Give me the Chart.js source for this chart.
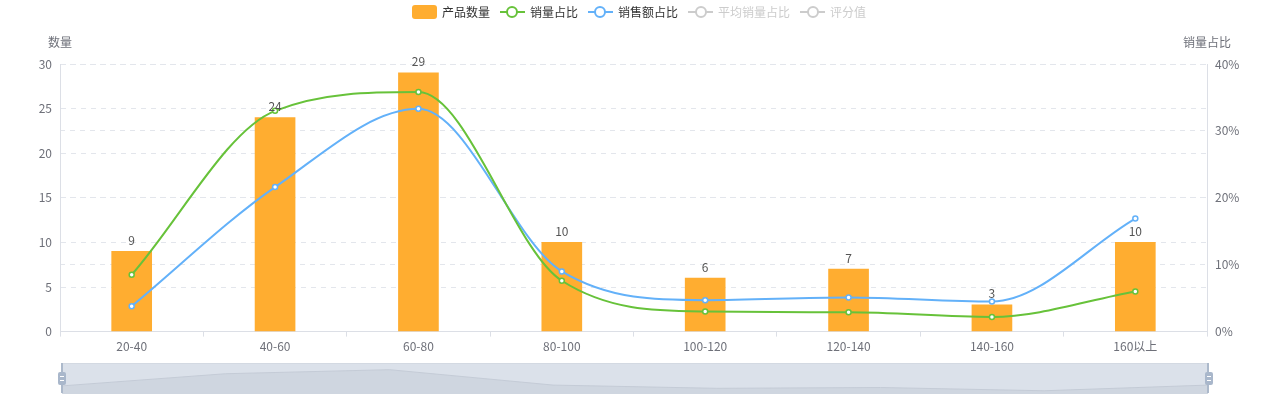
<!DOCTYPE html>
<html>
<head>
<meta charset="utf-8">
<script src="https://cdn.jsdelivr.net/npm/chart.js@4.4.1/dist/chart.umd.min.js"></script>
<style>
  html, body { margin: 0; padding: 0; background: #fff; }
  #wrap { position: relative; width: 1278px; height: 400px; overflow: hidden; }
  #main { position: absolute; left: 0; top: 0; }
  .legend {
    position: absolute; left: 0; top: 5px; width: 1278px;
    display: flex; justify-content: center;
    font: 12px "Noto Sans CJK SC", sans-serif; color: #333; line-height: 14px;
  }
  .legend .item { display: flex; align-items: center; margin: 0 5px; }
  .legend .item.off { color: #ccc; }
  .legend .txt { margin-left: 5px; white-space: nowrap; }
  .ico { position: relative; width: 25px; height: 14px; }
  .ico.bar { background: var(--c); border-radius: 3px; }
  .ico.line::before {
    content: ""; position: absolute; left: 0; right: 0; top: 6px; height: 2px; background: var(--c);
  }
  .ico.line::after {
    content: ""; position: absolute; left: 6.5px; top: 1px; width: 8px; height: 8px;
    border: 2px solid var(--c); border-radius: 50%; background: #fff;
  }
  #zoomBox {
    position: absolute; left: 62px; top: 363px; width: 1147px; height: 30px;
    background: #dbe1ea; box-sizing: border-box; border-top: 1px solid #d3d9e2;
  }
  #shadow { position: absolute; left: 0; top: 0; }
  .handleBar { position: absolute; top: 363px; width: 2px; height: 30px; background: #acb9cb; }
  .handle {
    position: absolute; top: 372px; width: 8px; height: 13px; background: #a9b7cb; border-radius: 2px;
  }
  .handle::before, .handle::after {
    content: ""; position: absolute; left: 2px; width: 4px; height: 1px; background: #fff;
  }
  .handle::before { top: 4px; }
  .handle::after { top: 8px; }
</style>
</head>
<body>
<div id="wrap">
  <canvas id="main" width="1278" height="400"></canvas>
  <div class="legend">
    <div class="item"><div class="ico bar" style="--c:#ffad30"></div><span class="txt">产品数量</span></div>
    <div class="item"><div class="ico line" style="--c:#67c23a"></div><span class="txt">销量占比</span></div>
    <div class="item"><div class="ico line" style="--c:#63b1f9"></div><span class="txt">销售额占比</span></div>
    <div class="item off"><div class="ico line" style="--c:#ccc"></div><span class="txt">平均销量占比</span></div>
    <div class="item off"><div class="ico line" style="--c:#ccc"></div><span class="txt">评分值</span></div>
  </div>
  <div id="zoomBox"><canvas id="shadow" width="1146" height="30"></canvas></div>
  <div class="handleBar" style="left:61px"></div>
  <div class="handleBar" style="left:1207px"></div>
  <div class="handle" style="left:58px"></div>
  <div class="handle" style="left:1205px"></div>
</div>
<script>
// price ranges
const categories = ['20-40', '40-60', '60-80', '80-100', '100-120', '120-140', '140-160', '160以上'];
// 产品数量
const counts = [9, 24, 29, 10, 6, 7, 3, 10];
// 销量占比 (%)
const volumeShare = [8.5, 33.0, 35.8, 7.6, 3.0, 2.9, 2.2, 6.0];
// 销售额占比 (%)
const amountShare = [3.8, 21.6, 33.3, 9.0, 4.7, 5.1, 4.5, 16.9];

const leftTicks = [0, 5, 10, 15, 20, 25, 30];
const rightTicks = [0, 10, 20, 30, 40];

const FONT = '"Noto Sans CJK SC", sans-serif';
const colors = {
  bar: '#ffad30',
  green: '#67c23a',
  blue: '#63b1f9',
  axisText: '#6e7079',
  axisLine: '#dcdfe6',
  grid: '#e3e6ec'
};

// value labels above the bars
const barLabels = {
  id: 'barLabels',
  afterDatasetsDraw(chart) {
    const meta = chart.getDatasetMeta(0);
    const ctx = chart.ctx;
    ctx.save();
    ctx.font = '12px ' + FONT;
    ctx.fillStyle = '#555';
    ctx.textAlign = 'center';
    ctx.textBaseline = 'bottom';
    meta.data.forEach((bar, i) => {
      ctx.fillText(String(counts[i]), bar.x, bar.y - 5);
    });
    ctx.restore();
  }
};

// axis names in the top corners
const axisNames = {
  id: 'axisNames',
  afterDraw(chart) {
    const { ctx, chartArea } = chart;
    ctx.save();
    ctx.font = '12px ' + FONT;
    ctx.fillStyle = colors.axisText;
    ctx.textAlign = 'center';
    ctx.textBaseline = 'middle';
    ctx.fillText('数量', chartArea.left, 42);
    ctx.fillText('销量占比', chartArea.right, 42);
    ctx.restore();
  }
};

new Chart(document.getElementById('main'), {
  type: 'bar',
  data: {
    labels: categories,
    datasets: [
      {
        label: '产品数量',
        data: counts,
        backgroundColor: colors.bar,
        barThickness: 40,
        yAxisID: 'y',
        order: 3
      },
      {
        type: 'line',
        label: '销量占比',
        data: volumeShare,
        borderColor: colors.green,
        backgroundColor: '#fff',
        borderWidth: 2,
        cubicInterpolationMode: 'monotone',
        pointRadius: 2.5,
        pointBorderWidth: 1.5,
        pointBackgroundColor: '#fff',
        yAxisID: 'y1',
        order: 1
      },
      {
        type: 'line',
        label: '销售额占比',
        data: amountShare,
        borderColor: colors.blue,
        backgroundColor: '#fff',
        borderWidth: 2,
        cubicInterpolationMode: 'monotone',
        pointRadius: 2.5,
        pointBorderWidth: 1.5,
        pointBackgroundColor: '#fff',
        yAxisID: 'y1',
        order: 2
      }
    ]
  },
  options: {
    responsive: false,
    animation: false,
    layout: { padding: { top: 64, bottom: 43, left: 0, right: 0 } },
    plugins: {
      legend: { display: false },
      tooltip: { enabled: false }
    },
    scales: {
      x: {
        offset: true,
        grid: {
          offset: true,
          drawOnChartArea: false,
          drawTicks: true,
          tickLength: 5,
          color: colors.axisLine
        },
        border: { color: colors.axisLine },
        ticks: {
          padding: 3,
          color: colors.axisText,
          font: { family: FONT, size: 12 },
          maxRotation: 0,
          autoSkip: false
        }
      },
      y: {
        position: 'left',
        min: 0,
        max: 30,
        afterFit(scale) { scale.width = 60; },
        afterBuildTicks(scale) { scale.ticks = leftTicks.map(v => ({ value: v })); },
        grid: { color: colors.grid, drawTicks: false },
        border: { color: colors.axisLine, dash: [5, 5] },
        ticks: {
          padding: 8,
          color: colors.axisText,
          font: { family: FONT, size: 12 }
        }
      },
      y1: {
        position: 'right',
        min: 0,
        max: 40,
        afterFit(scale) { scale.width = 71; },
        afterBuildTicks(scale) { scale.ticks = rightTicks.map(v => ({ value: v })); },
        grid: { color: colors.grid, drawTicks: false },
        border: { color: colors.axisLine, dash: [5, 5] },
        ticks: {
          padding: 8,
          color: colors.axisText,
          font: { family: FONT, size: 12 },
          callback: v => v + '%'
        }
      }
    }
  },
  plugins: [barLabels, axisNames]
});

// data zoom shadow
new Chart(document.getElementById('shadow'), {
  type: 'line',
  data: {
    labels: categories,
    datasets: [{
      data: counts,
      fill: 'start',
      backgroundColor: '#cfd6e0',
      borderColor: '#c4cbd6',
      borderWidth: 1,
      tension: 0,
      pointRadius: 0
    }]
  },
  options: {
    responsive: false,
    animation: false,
    layout: { padding: 0 },
    plugins: { legend: { display: false }, tooltip: { enabled: false } },
    scales: {
      x: { display: false, offset: false },
      y: { display: false, min: -1, max: 36 }
    }
  }
});
</script>
</body>
</html>
